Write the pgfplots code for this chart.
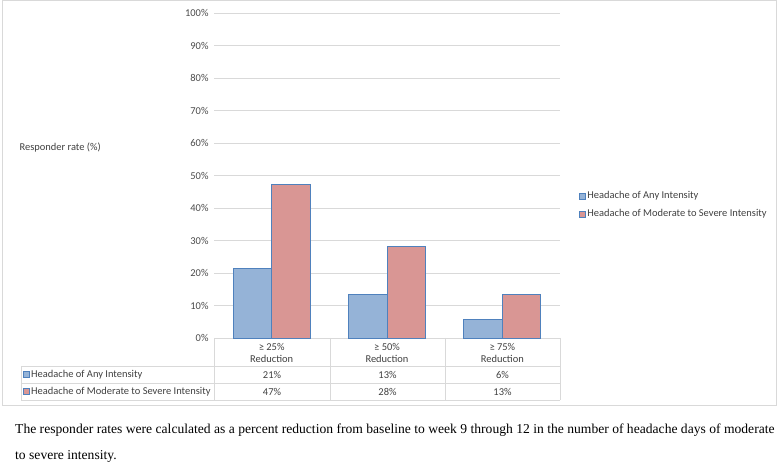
\documentclass[border=0pt]{standalone}
\usepackage{pgfplots}
\pgfplotsset{compat=1.18}
\usepackage{fontspec}
\setmainfont{Carlito}
\newfontfamily\capfont{Liberation Serif}
\definecolor{cblue}{HTML}{95B3D7}
\definecolor{cred}{HTML}{D99694}
\definecolor{cedge}{HTML}{4F81BD}
\definecolor{tickc}{HTML}{4A4A4A}
\definecolor{ttext}{HTML}{404040}
\definecolor{gridc}{HTML}{D9D9D9}
\newcommand{\cf}{\fontsize{10.5}{12.5}\selectfont}
\begin{document}
\begin{tikzpicture}
\begin{scope}[x=1bp,y=-1bp]
\path[use as bounding box] (0,0) rectangle (778,468);
\draw[gridc, line width=0.8pt] (2.5,0.5) rectangle (776.5,405);
\end{scope}
\begin{axis}[
  at={(214bp,-338bp)}, anchor=south west,
  width=346bp, height=325bp, scale only axis,
  xmin=-0.5, xmax=2.5, ymin=0, ymax=100,
  ytick={0,10,...,100},
  yticklabel={\pgfmathprintnumber{\tick}\%},
  /pgf/number format/assume math mode=true,
  ymajorgrids, xmajorgrids=false,
  major grid style={draw=gridc, line width=0.8pt},
  axis line style={draw=none},
  major tick length=0pt,
  yticklabel style={font=\cf, text=tickc, xshift=-2bp},
  xtick={0,1,2},
  xticklabels={{≥ 25\%\\Reduction},{≥ 50\%\\Reduction},{≥ 75\%\\Reduction}},
  xticklabel style={font=\cf, text=ttext, align=center, yshift=-1.5bp},
  ybar=0pt, bar width=0.334,
  ylabel={Responder rate (\%)},
  ylabel style={at={(axis description cs:-0.572,0.585)}, rotate=-90, anchor=west, font=\cf, text=ttext},
  legend style={at={(axis description cs:1.045,0.463)}, anchor=north west, draw=none, fill=none, font=\cf, text=ttext, row sep=5bp},
  legend cell align=left,
  legend image code/.code={\draw[#1, line width=0.6pt] (0bp,-3bp) rectangle (6bp,3bp);},
]
\addplot[fill=cblue, draw=cedge, line width=0.8pt] coordinates {(0,21.5) (1,13.5) (2,5.7)};
\addplot[fill=cred, draw=cedge, line width=0.8pt] coordinates {(0,47.3) (1,28.2) (2,13.5)};
\legend{Headache of Any Intensity, Headache of Moderate to Severe Intensity}
\end{axis}
\begin{scope}[x=1bp,y=-1bp]
\draw[gridc, line width=0.8pt] (214,338) -- (214,400) (330,338) -- (330,400) (445,338) -- (445,400) (560,338) -- (560,400);
\draw[gridc, line width=0.8pt] (21,366) -- (560,366) (21,383) -- (560,383) (21,400) -- (560,400) (21,366) -- (21,400);
\draw[fill=cblue, draw=cedge, line width=0.6pt] (23,371.5) rectangle (29,377.5);
\draw[fill=cred, draw=cedge, line width=0.6pt] (23,388.5) rectangle (29,394.5);
\node[anchor=west, font=\cf, text=ttext, inner sep=0pt] at (31,374.5) {Headache of Any Intensity};
\node[anchor=west, font=\cf, text=ttext, inner sep=0pt] at (31,391.5) {Headache of Moderate to Severe Intensity};
\node[font=\cf, text=ttext] at (272,374.5) {21\%};
\node[font=\cf, text=ttext] at (387.5,374.5) {13\%};
\node[font=\cf, text=ttext] at (502.5,374.5) {6\%};
\node[font=\cf, text=ttext] at (272,391.5) {47\%};
\node[font=\cf, text=ttext] at (387.5,391.5) {28\%};
\node[font=\cf, text=ttext] at (502.5,391.5) {13\%};
\node[anchor=west, inner sep=0pt, font=\capfont\fontsize{13.65}{15}\selectfont] at (15,430) {The responder rates were calculated as a percent reduction from baseline to week 9 through 12 in the number of headache days of moderate};
\node[anchor=west, inner sep=0pt, font=\capfont\fontsize{13.65}{15}\selectfont] at (15,456.5) {to severe intensity.};
\end{scope}
\end{tikzpicture}
\end{document}
